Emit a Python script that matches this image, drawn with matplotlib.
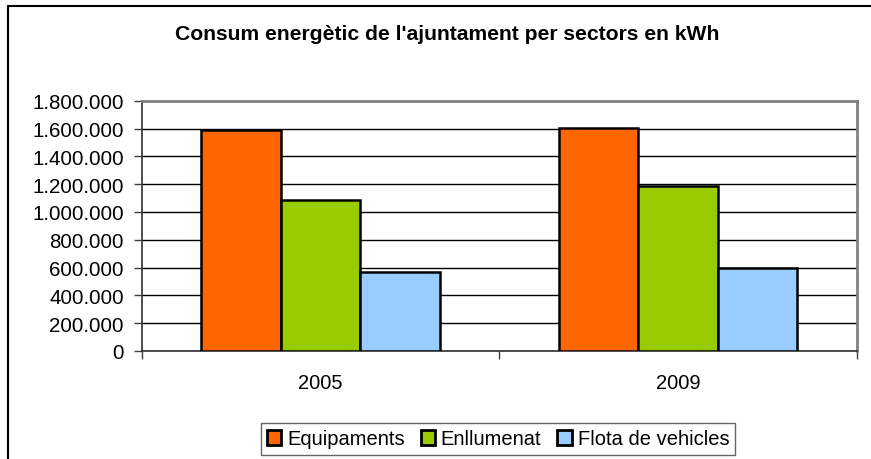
import matplotlib
matplotlib.use("Agg")
import matplotlib.pyplot as plt
import numpy as np
from matplotlib.patches import Rectangle
from matplotlib.ticker import FuncFormatter, FixedLocator

plt.rcParams["font.family"] = ["Liberation Sans", "DejaVu Sans"]

years = ["2005", "2009"]
series = ["Equipaments", "Enllumenat", "Flota de vehicles"]
equipaments = [1589000, 1601000]
enllumenat = [1085000, 1188000]
flota = [569000, 600000]
colors = ["#FF6600", "#99CC00", "#99CCFF"]

W, H = 871, 460
fig = plt.figure(figsize=(W / 100, H / 100), dpi=100)
ax = fig.add_axes([141.7 / W, (H - 352) / H, (857 - 141.7) / W, (352 - 101.7) / H])

# Excel style: gap width 150% -> bar width = 1 / 4.5 of a category
bw = 1 / 4.5
centers = np.arange(len(years)) + 0.5
for i, (vals, c, lab) in enumerate(zip([equipaments, enllumenat, flota], colors, series)):
    ax.bar(centers + (i - 1) * bw, vals, width=bw, color=c, edgecolor="black",
           linewidth=1.8, label=lab, zorder=3)

ax.set_xlim(0, len(years))
ax.set_ylim(0, 1800000)
ax.yaxis.set_major_locator(FixedLocator(np.arange(0, 1800001, 200000)))
ax.yaxis.set_major_formatter(FuncFormatter(lambda v, p: f"{int(v):,}".replace(",", ".")))
ax.grid(axis="y", color="black", linewidth=1.0, zorder=0)

ax.set_xticks(np.arange(len(years) + 1))
ax.set_xticklabels([])
ax.set_xticks(centers, minor=True)
ax.set_xticklabels(years, minor=True)
ax.tick_params(axis="x", which="minor", length=0, labelsize=14.5, pad=16)
ax.tick_params(axis="x", which="major", direction="out", length=6, width=1.0, color="#404040")
ax.tick_params(axis="y", direction="out", length=6, width=1.0, color="#404040", labelsize=14.8, pad=7)

for s in ["top", "right"]:
    ax.spines[s].set_color("#808080")
    ax.spines[s].set_linewidth(2.0)
for s in ["left", "bottom"]:
    ax.spines[s].set_color("#303030")
    ax.spines[s].set_linewidth(1.2)

fig.text(447 / W, 1 - 35 / H, "Consum energètic de l'ajuntament per sectors en kWh",
         ha="center", va="center", fontsize=15.2, fontweight="bold")

leg = fig.legend(loc="center", bbox_to_anchor=(498 / W, 1 - 440 / H), ncol=3,
                 fontsize=14.5, frameon=True, fancybox=False, edgecolor="#404040",
                 handlelength=0.7, handleheight=0.7, handletextpad=0.3,
                 columnspacing=0.8, borderpad=0.3, borderaxespad=0)
leg.get_frame().set_linewidth(1.0)
for h in leg.legend_handles:
    h.set_linewidth(2.0)

# chart area border (cut off on right and bottom)
fig.patches.append(Rectangle((8 / W, -0.1), 1.2, 1 - 7 / H + 0.1, transform=fig.transFigure,
                             fill=False, edgecolor="black", linewidth=1.5))

fig.savefig("out.png", dpi=100)
